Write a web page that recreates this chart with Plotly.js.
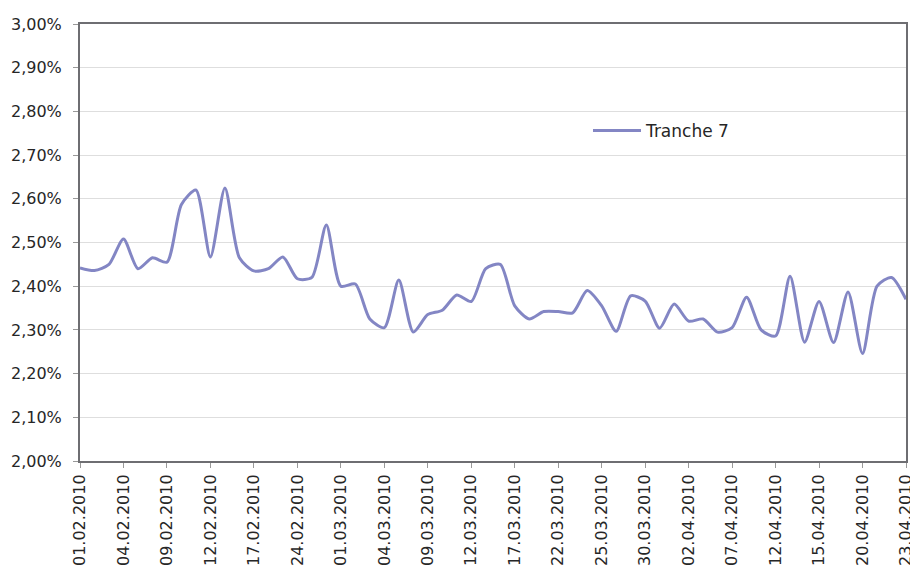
<!DOCTYPE html>
<html>
<head>
<meta charset="utf-8">
<script src="https://cdn.plot.ly/plotly-3.0.1.min.js"></script>
<style>html,body{margin:0;padding:0;background:#fff;}#chart{width:910px;height:573px;}</style>
</head>
<body>
<div id="chart"></div>
<script>
const dates = [
  "01.02.2010","02.02.2010","03.02.2010","04.02.2010","05.02.2010","08.02.2010","09.02.2010","10.02.2010","11.02.2010","12.02.2010",
  "15.02.2010","16.02.2010","17.02.2010","18.02.2010","22.02.2010","24.02.2010","25.02.2010","26.02.2010","01.03.2010","02.03.2010",
  "03.03.2010","04.03.2010","05.03.2010","08.03.2010","09.03.2010","10.03.2010","11.03.2010","12.03.2010","15.03.2010","16.03.2010",
  "17.03.2010","18.03.2010","19.03.2010","22.03.2010","23.03.2010","24.03.2010","25.03.2010","26.03.2010","29.03.2010","30.03.2010",
  "31.03.2010","01.04.2010","02.04.2010","05.04.2010","06.04.2010","07.04.2010","08.04.2010","09.04.2010","12.04.2010","13.04.2010",
  "14.04.2010","15.04.2010","16.04.2010","19.04.2010","20.04.2010","21.04.2010","22.04.2010","23.04.2010"
];
const tranche7 = [
  2.442,2.436,2.450,2.508,2.440,2.465,2.455,2.587,2.620,2.467,
  2.625,2.465,2.435,2.440,2.467,2.417,2.420,2.540,2.400,2.405,
  2.325,2.305,2.414,2.295,2.335,2.345,2.380,2.365,2.440,2.450,
  2.355,2.325,2.342,2.342,2.339,2.390,2.355,2.297,2.378,2.366,
  2.304,2.359,2.320,2.325,2.295,2.305,2.375,2.300,2.286,2.423,
  2.272,2.365,2.271,2.387,2.246,2.400,2.420,2.370
];
const tickLabels = dates.filter((d, i) => i % 3 === 0);
const yTicks = [2.0,2.1,2.2,2.3,2.4,2.5,2.6,2.7,2.8,2.9,3.0];
const yTickText = yTicks.map(v => v.toFixed(2).replace('.', ',') + '%');

const font = "'DejaVu Sans', sans-serif";

Plotly.newPlot('chart', [{
  x: dates,
  y: tranche7,
  type: 'scatter',
  mode: 'lines',
  name: 'Tranche 7',
  line: {color: '#8386c4', width: 3, shape: 'spline', smoothing: 0.7}
}], {
  width: 910, height: 573,
  margin: {l: 79.5, r: 4, t: 24, b: 112},
  paper_bgcolor: '#ffffff',
  plot_bgcolor: '#ffffff',
  showlegend: true,
  legend: {x: 0.615, y: 0.755, xanchor: 'left', yanchor: 'middle', itemwidth: 48,
           bgcolor: 'rgba(0,0,0,0)', font: {family: font, size: 17, color: '#262626'}},
  xaxis: {
    type: 'category',
    range: [0, dates.length - 1],
    tickmode: 'array',
    tickvals: tickLabels,
    ticktext: tickLabels,
    tickangle: -90,
    ticks: 'outside', ticklen: 5, tickcolor: '#999999', tickwidth: 1,
    showline: true, mirror: true, linecolor: '#6e6e72', linewidth: 2,
    showgrid: false, zeroline: false,
    tickfont: {family: font, size: 16, color: '#262626'}
  },
  yaxis: {
    range: [2.0, 3.0],
    tickmode: 'array',
    tickvals: yTicks,
    ticktext: yTickText,
    ticks: 'outside', ticklen: 5, tickcolor: '#999999', tickwidth: 1,
    ticklabelstandoff: 8,
    showline: true, mirror: true, linecolor: '#6e6e72', linewidth: 2,
    showgrid: true, gridcolor: '#dedede', gridwidth: 1, zeroline: false,
    tickfont: {family: font, size: 16, color: '#262626'}
  }
}, {displayModeBar: false, staticPlot: true});
</script>
</body>
</html>
